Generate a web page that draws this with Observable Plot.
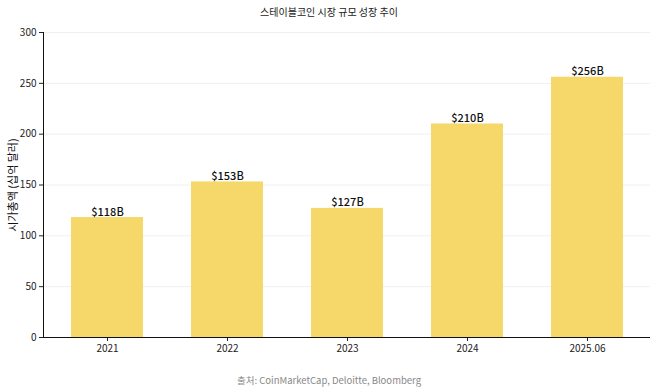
<!DOCTYPE html>
<html><head><meta charset="utf-8">
<script src="https://cdn.jsdelivr.net/npm/d3@7"></script>
<script src="https://cdn.jsdelivr.net/npm/@observablehq/plot@0.6"></script>
<style>
body{margin:0;background:#fff;font-family:"Noto Sans CJK KR","Noto Sans",sans-serif;}
#title{height:24px;line-height:24px;text-align:center;font-size:10px;color:#222;}
#caption{height:23px;line-height:23px;text-align:center;font-size:9.5px;color:#888;}
</style></head><body>
<div id="title">스테이블코인 시장 규모 성장 추이</div>
<div id="chart"></div>
<div id="caption">출처: CoinMarketCap, Deloitte, Bloomberg</div>
<script>
const periods = ["2021","2022","2023","2024","2025.06"];
const caps = [118,153,127,210,256];
const labels = ["$118B","$153B","$127B","$210B","$256B"];
const yTicks = [0,50,100,150,200,250,300];
const data = periods.map((p,i)=>({p, v:caps[i], l:labels[i]}));
const plot = Plot.plot({
  width:658, height:345,
  marginLeft:43, marginRight:8, marginTop:8, marginBottom:32,
  style:{fontFamily:'"Noto Sans CJK KR","Noto Sans",sans-serif', fontSize:"10px", color:"#222"},
  x:{domain:periods, paddingInner:0.4, paddingOuter:0.22, label:null},
  y:{domain:[0,300], ticks:yTicks, label:"시가총액 (십억 달러)"},
  marks:[
    Plot.ruleY(yTicks.slice(1), {stroke:"#f0f0f0"}),
    Plot.barY(data, {x:"p", y:"v", fill:"#F5D869"}),
    Plot.text(data, {x:"p", y:"v", text:"l", lineAnchor:"bottom", dy:-2, fontSize:11, fill:"#111", fontWeight:500}),
    Plot.axisX({tickSize:4, tickPadding:3, fontSize:10}),
    Plot.axisY({ticks:yTicks, tickSize:4, tickPadding:3, fontSize:10, label:null}),
    Plot.axisY({ticks:[], tickSize:0, label:"시가총액 (십억 달러)", labelAnchor:"center", labelArrow:"none", labelOffset:34, fontSize:11, fill:"#111"}),
    Plot.ruleY([0], {stroke:"#111"}),
    Plot.frame({anchor:"left", stroke:"#111"})
  ]
});
document.getElementById("chart").appendChild(plot);
</script></body></html>
